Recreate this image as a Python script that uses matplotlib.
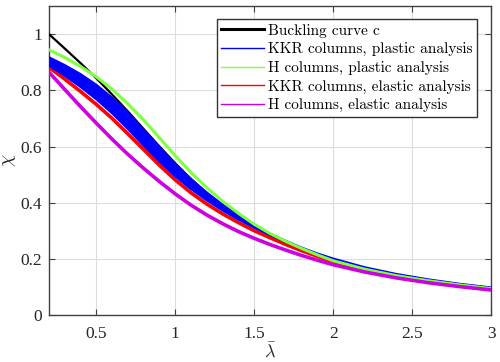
import matplotlib
matplotlib.use("Agg")
import matplotlib.pyplot as plt
from matplotlib.lines import Line2D

lam = [0.2, 0.3, 0.4, 0.5, 0.6, 0.7, 0.8, 0.9, 1.0, 1.1, 1.2, 1.3, 1.4, 1.5,
       1.6, 1.7, 1.8, 1.9, 2.0, 2.2, 2.4, 2.6, 2.8, 3.0]

curve_c = [1.0, 0.949, 0.897, 0.843, 0.785, 0.725, 0.662, 0.600, 0.540, 0.484,
           0.434, 0.389, 0.349, 0.315, 0.284, 0.258, 0.2345, 0.214, 0.196,
           0.166, 0.1425, 0.1234, 0.1079, 0.0951]

kkr_plastic_hi = [0.918, 0.890, 0.858, 0.820, 0.774, 0.720, 0.660, 0.598, 0.537,
                  0.484, 0.436, 0.393, 0.354, 0.320, 0.290, 0.264, 0.240, 0.219,
                  0.201, 0.170, 0.146, 0.127, 0.111, 0.098]
kkr_plastic_lo = [0.888, 0.852, 0.812, 0.768, 0.718, 0.662, 0.603, 0.546, 0.494,
                  0.448, 0.408, 0.372, 0.340, 0.311, 0.285, 0.260, 0.237, 0.216,
                  0.197, 0.167, 0.143, 0.124, 0.109, 0.096]

h_plastic = [0.945, 0.917, 0.885, 0.848, 0.804, 0.752, 0.694, 0.631, 0.567, 0.507,
             0.453, 0.405, 0.362, 0.323, 0.290, 0.262, 0.237, 0.214, 0.193,
             0.163, 0.140, 0.122, 0.107, 0.094]

kkr_elastic = [0.882, 0.840, 0.796, 0.750, 0.700, 0.645, 0.589, 0.533, 0.481,
               0.435, 0.395, 0.360, 0.329, 0.300, 0.275, 0.251, 0.229, 0.209,
               0.190, 0.162, 0.139, 0.121, 0.106, 0.092]

h_elastic = [0.865, 0.803, 0.742, 0.683, 0.626, 0.572, 0.522, 0.475, 0.431, 0.391,
             0.356, 0.325, 0.297, 0.273, 0.251, 0.231, 0.212, 0.195, 0.179,
             0.153, 0.132, 0.115, 0.101, 0.089]

labels = ["Buckling curve c", "KKR columns, plastic analysis",
          "H columns, plastic analysis", "KKR columns, elastic analysis",
          "H columns, elastic analysis"]

xticks = [0.5, 1, 1.5, 2, 2.5, 3]
xticklabels = ["0.5", "1", "1.5", "2", "2.5", "3"]
yticks = [0, 0.2, 0.4, 0.6, 0.8, 1.0]
yticklabels = ["0", "0.2", "0.4", "0.6", "0.8", "1"]

c_black = "black"
c_blue = "#0000ff"
c_green = "#80ff40"
c_red = "#ff0000"
c_mag = "#cc00e0"

plt.rcParams['mathtext.fontset'] = 'cm'

fig = plt.figure(figsize=(5, 3.62), dpi=100)
ax = fig.add_axes([0.098, 0.130, 0.884, 0.853])

ax.plot(lam, curve_c, color=c_black, lw=1.6, zorder=3)
ax.plot(lam, kkr_elastic, color=c_red, lw=2.6, zorder=3.5)
ax.fill_between(lam, kkr_plastic_lo, kkr_plastic_hi, color=c_blue, lw=0, zorder=4)
ax.plot(lam, kkr_plastic_hi, color=c_blue, lw=1.5, zorder=4)
ax.plot(lam, kkr_plastic_lo, color=c_blue, lw=1.5, zorder=4)
ax.plot(lam, h_plastic, color=c_green, lw=2.2, zorder=5)
ax.plot(lam, h_elastic, color=c_mag, lw=2.6, zorder=5)

ax.set_xlim(0.2, 3)
ax.set_ylim(0, 1.1)
ax.set_xticks(xticks)
ax.set_xticklabels(xticklabels)
ax.set_yticks(yticks)
ax.set_yticklabels(yticklabels)
ax.grid(True, color="#dcdcdc", lw=0.8)
ax.set_axisbelow(True)
for s in ax.spines.values():
    s.set_color("#404040")
    s.set_linewidth(1.0)
ax.tick_params(direction="in", top=True, right=True, length=4, width=0.8,
               color="#404040", labelsize=12.5, labelcolor="#262626")
ax.tick_params(axis="x", pad=8)
ax.tick_params(axis="y", pad=5)
for t in ax.get_xticklabels() + ax.get_yticklabels():
    t.set_family("Liberation Serif")

ax.set_xlabel(r"$\bar{\lambda}$", fontsize=13, color="#262626", labelpad=0)
ax.set_ylabel(r"$\chi$", fontsize=14, color="#262626")
ax.yaxis.set_label_coords(-0.070, 0.5)

handles = [Line2D([], [], color=c_black, lw=2.2),
           Line2D([], [], color=c_blue, lw=1.0),
           Line2D([], [], color=c_green, lw=1.0),
           Line2D([], [], color=c_red, lw=1.0),
           Line2D([], [], color=c_mag, lw=1.0)]
leg = ax.legend(handles, labels, loc="upper right", bbox_to_anchor=(0.968, 0.958),
                borderaxespad=0, fancybox=False, framealpha=1, edgecolor="#333333",
                prop={"family": "cmr10", "size": 11}, handlelength=2.8,
                handletextpad=0.25, labelspacing=0.3, borderpad=0.3)
leg.get_frame().set_linewidth(1.0)
leg.set_zorder(10)

fig.savefig("out.png", dpi=100)
